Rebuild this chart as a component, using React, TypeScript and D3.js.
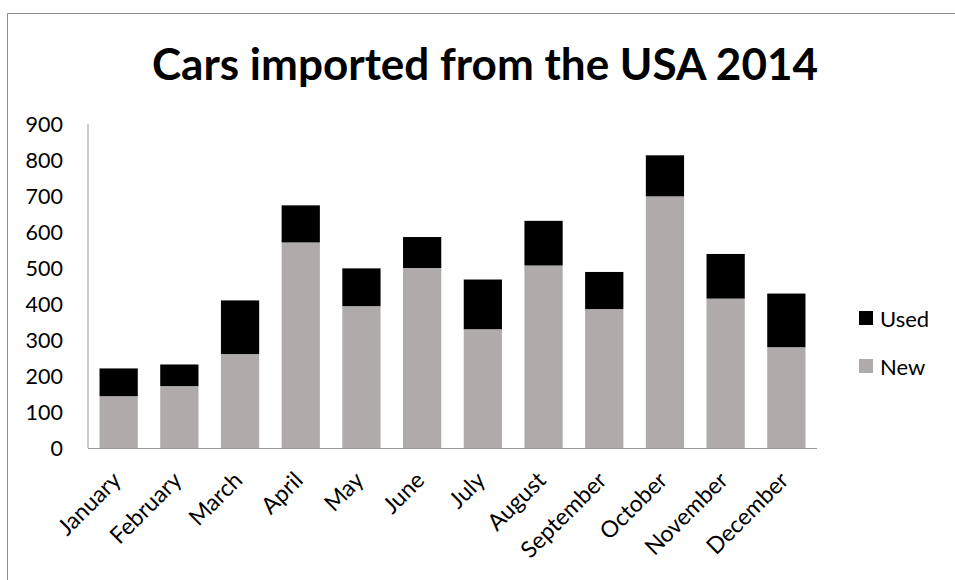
import React from "react";
import * as d3 from "d3";

const months = ["January","February","March","April","May","June","July","August","September","October","November","December"];
const newCars = [144, 172, 261, 571, 394, 500, 330, 507, 386, 699, 415, 280];
const usedCars = [77, 60, 149, 103, 105, 86, 138, 124, 103, 114, 124, 149];
const yTicks = [0, 100, 200, 300, 400, 500, 600, 700, 800, 900];
const seriesKeys = ["New", "Used"];
const seriesColors = ["#aeabaa", "#000000"];
const legendOrder = ["Used", "New"];

const W = 955, H = 580;
const left = 88, right = 817, top = 124, bottom = 448;
const FONT = "Lato, 'Noto Sans', sans-serif";

export default function App() {
  const x = d3.scaleBand<string>().domain(months).range([left, right]).paddingInner(0.37).paddingOuter(0.19);
  const y = d3.scaleLinear().domain([0, 900]).range([bottom, top]);
  const rows = months.map((m, i) => ({ month: m, New: newCars[i], Used: usedCars[i] }));
  const stacked = d3.stack<any>().keys(seriesKeys)(rows);
  const color = d3.scaleOrdinal<string, string>().domain(seriesKeys).range(seriesColors);

  return (
    <svg width={W} height={H} style={{ display: "block" }} fontFamily={FONT}>
      <style>{`body{margin:0}`}</style>
      <rect x={0} y={0} width={W} height={H} fill="#fff" />
      <path d={`M7.5,${H} V13.5 H${W}`} fill="none" stroke="#8a8a8a" strokeWidth={1} />
      <text x={(152 + 818) / 2} y={80} textAnchor="middle" fontSize={44} fontWeight={700} fill="#000" textLength={666} lengthAdjust="spacingAndGlyphs">
        Cars imported from the USA 2014
      </text>
      {stacked.map((s) => (
        <g key={s.key} fill={color(s.key)}>
          {s.map((d, i) => (
            <rect key={i} x={x(months[i])} width={x.bandwidth()} y={y(d[1])} height={y(d[0]) - y(d[1])} />
          ))}
        </g>
      ))}
      <line x1={left} x2={left} y1={top} y2={bottom} stroke="#999" strokeWidth={1} />
      <line x1={left} x2={right} y1={bottom + 0.5} y2={bottom + 0.5} stroke="#999" strokeWidth={1} />
      {yTicks.map((t) => (
        <text key={t} x={63} y={y(t)} dy="0.36em" textAnchor="end" fontSize={21.5} fill="#000">{t}</text>
      ))}
      {months.map((m) => {
        const cx = (x(m) as number) + x.bandwidth() / 2;
        return (
          <text key={m} transform={`translate(${cx - 2},${476}) rotate(-45)`} textAnchor="end" dy="0.35em" fontSize={23} fill="#000">{m}</text>
        );
      })}
      {legendOrder.map((k, i) => (
        <g key={k} transform={`translate(859,${311 + i * 48})`}>
          <rect x={0} y={0} width={14} height={14} fill={color(k)} />
          <text x={21} y={16} fontSize={22} fill="#000">{k}</text>
        </g>
      ))}
    </svg>
  );
}
